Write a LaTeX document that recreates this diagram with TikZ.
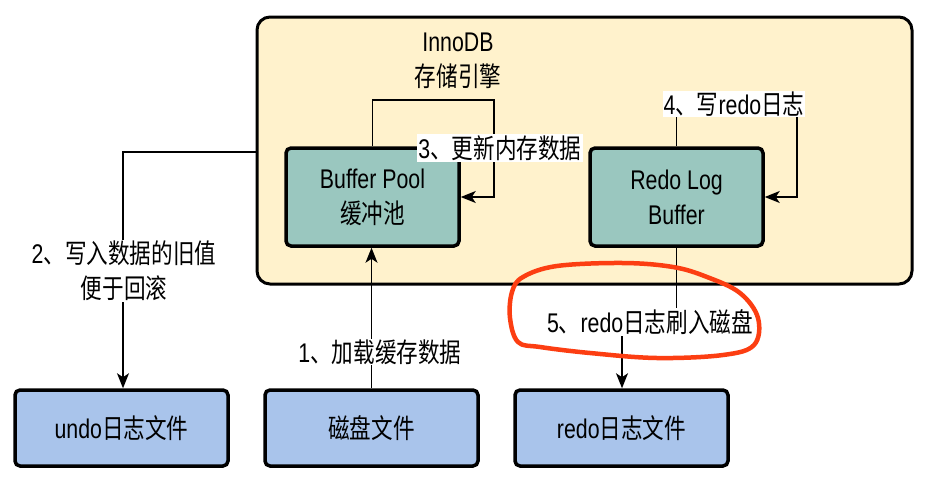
\documentclass[tikz,border=0pt]{standalone}
\usepackage{fontspec}
\setmainfont{Liberation Sans}[FakeStretch=0.79]
\newfontfamily\cjkf{Noto Sans CJK SC}[FakeStretch=0.80]
\newcommand\zhs[1]{{\cjkf #1}}
\usetikzlibrary{arrows.meta}
\definecolor{engfill}{HTML}{FFF2CC}
\definecolor{tealfill}{HTML}{9AC7BF}
\definecolor{bluefill}{HTML}{A9C4EB}
\definecolor{penred}{RGB}{252,62,18}
\begin{document}
\begin{tikzpicture}[x=1pt,y=-1pt,
  every node/.style={font=\fontsize{27}{35}\selectfont, inner sep=2pt},
  engbox/.style={draw=black, line width=3pt, fill=engfill, rounded corners=13pt, minimum width=655pt, minimum height=267pt},
  tealbox/.style={draw=black, line width=3.5pt, fill=tealfill, rounded corners=5pt, minimum width=173pt, minimum height=98pt, align=center},
  filebox/.style={draw=black, line width=3.5pt, fill=bluefill, rounded corners=5pt, minimum width=213pt, minimum height=76pt, align=center},
  lbl/.style={fill=white, align=center, inner sep=1pt},
  arr/.style={draw=black, line width=1.5pt, -{Stealth[length=15pt,width=12pt,inset=4pt]}},
  ln/.style={draw=black, line width=1.5pt}
]
\useasboundingbox (0,0) rectangle (936,482);
\fill[white] (0,0) rectangle (936,482);

\node[engbox] (engine) at (584.5,150.5) {};
\node[align=center] (title) at (458,61) {InnoDB\\\zhs{存储引擎}};

\node[tealbox] (bp) at (372.5,197) {Buffer Pool\\\zhs{缓冲池}};
\node[tealbox] (redo) at (676.5,197) {Redo Log\\Buffer};

\node[filebox] (undo) at (121.5,428) {undo\zhs{日志文件}};
\node[filebox] (disk) at (371.5,428) {\zhs{磁盘文件}};
\node[filebox] (rfile) at (621.5,428) {redo\zhs{日志文件}};

% 1
\draw[arr] (disk.north) -- (disk.north |- bp.south);
\node[lbl] (l1) at (380,352) {1\zhs{、加载缓存数据}};

% 2
\coordinate (c2) at (123,152);
\draw[arr] (engine.west |- c2) -- (c2) -- (c2 |- undo.north);
\node[lbl] (l2) at (124,271) {2\zhs{、写入数据的旧值}\\\zhs{便于回滚}};

% 3
\coordinate (c3) at (494,100);
\draw[arr] (bp.north) |- (c3) -- (c3 |- bp.east) -- (bp.east);
\node[lbl] (l3) at (500,148) {3\zhs{、更新内存数据}};

% 4
\coordinate (c4) at (797,103);
\draw[arr] (redo.north) |- (c4) -- (c4 |- redo.east) -- (redo.east);
\node[lbl] (l4) at (734,104) {4\zhs{、写}redo\zhs{日志}};

% 5
\coordinate (c5) at (622,322);
\draw[arr] (redo.south) |- (c5) -- (c5 |- rfile.north);
\node[lbl] (l5) at (650,322) {5\zhs{、}redo\zhs{日志刷入磁盘}};

% red hand-drawn loop
\draw[penred, line width=4.5pt, line cap=round, line join=round]
  plot[smooth cycle, tension=0.6] coordinates {
    (523,277) (557,266) (623,263) (673,267) (707,277) (740,293)
    (758,318) (754,345) (723,355) (657,358) (590,353) (540,347)
    (518,342) (510,318) (512,292)};
\end{tikzpicture}
\end{document}
